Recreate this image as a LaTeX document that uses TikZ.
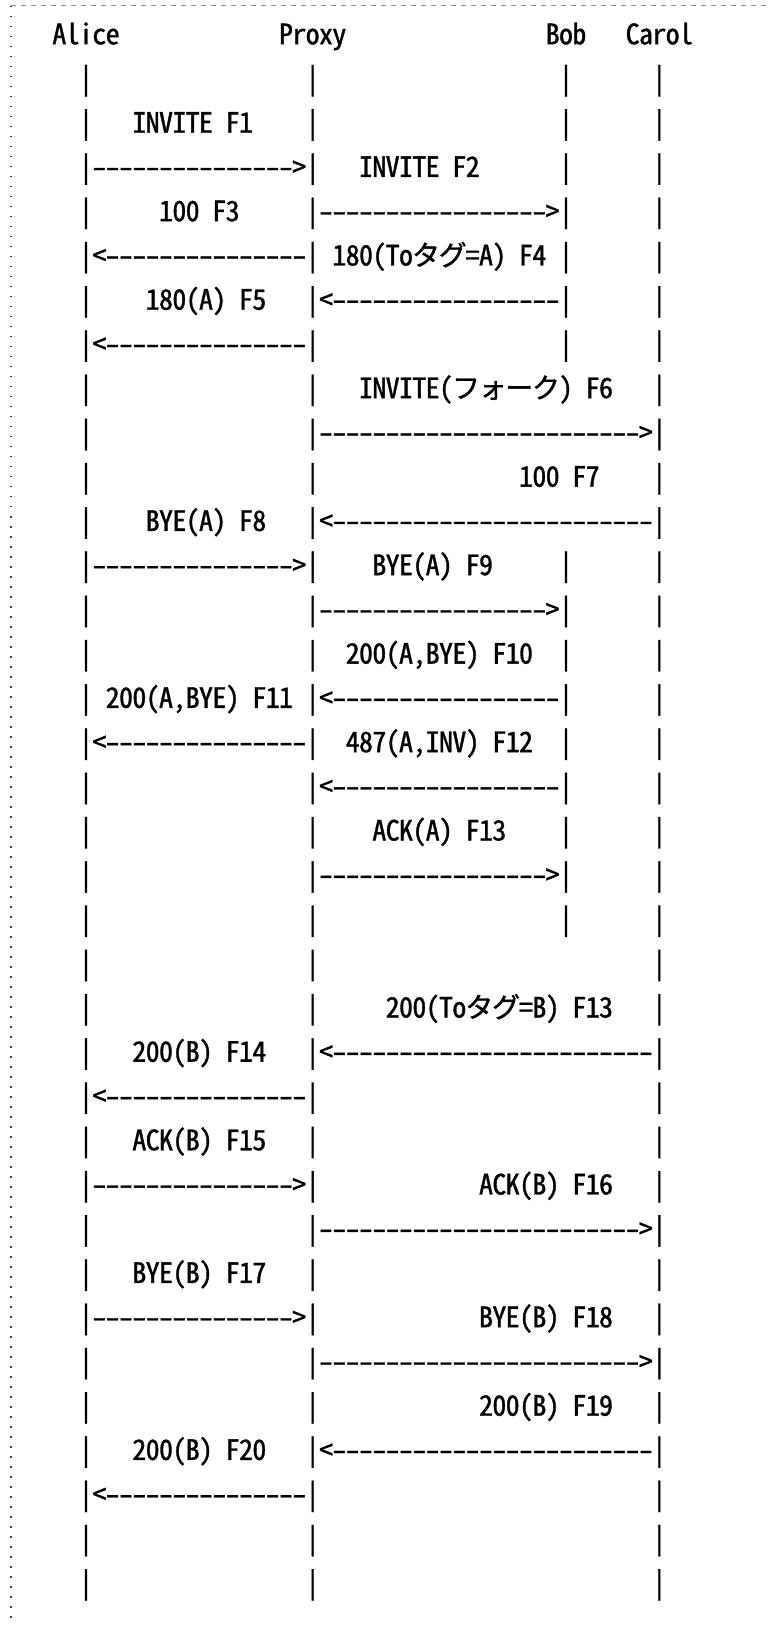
\documentclass[tikz,border=0pt]{standalone}
\usepackage{fontspec}
\usepackage{graphicx}
\newfontfamily\asciifont{Noto Sans CJK JP}[RawFeature=+hwid, FakeBold=1.2]
\newlength\cellw
\setlength\cellw{6.6667pt}
\ExplSyntaxOn
% 1文字ずつ等幅のマスに置く(全角は2マス)
\NewDocumentCommand \cells { m }
  {
    \exp_args:Ne \str_map_inline:nn {#1}
      {
        \int_compare:nNnTF { `##1 } > { 255 }
          { \hbox_to_wd:nn { 2\cellw } { \hss ##1 \hss } }
          {
            \str_if_eq:nnTF {##1} {-}
              { \hbox_to_wd:nn { \cellw } { \hss \scalebox{1.3}[1]{-} \hss } }
              { \hbox_to_wd:nn { \cellw } { \hss ##1 \hss } }
          }
      }
  }
% 矢印 (両端の縦線を含む)
\cs_new:Npn \arrowR #1 { | \prg_replicate:nn {#1} {-} > | }
\cs_new:Npn \arrowL #1 { | < \prg_replicate:nn {#1} {-} | }
\ExplSyntaxOff

\begin{document}
\begin{tikzpicture}[x=6.6667pt, y=-22.12pt,
    ascii/.style={anchor=base west, inner sep=0pt, outer sep=0pt,
      font=\asciifont\fontsize{14pt}{16pt}\selectfont},
    frametop/.style={black!45, line width=0.5pt, dash pattern=on 2.5pt off 2.5pt},
    frameleft/.style={black!75, line width=0.75pt, dash pattern=on 0.75pt off 4.25pt}]
  % 枠
  \useasboundingbox (0pt,0pt) rectangle (384.5pt,-812.5pt);
  \draw[frametop] (5.5pt,-3pt) -- (384.5pt,-3pt);
  \draw[frameleft] (5.5pt,-3pt) -- (5.5pt,-812.5pt);

  \begin{scope}[xshift=13pt]
    % 見出し
    \node[ascii] (alice) at (2,1) {\cells{Alice}};
    \node[ascii] (proxy) at (19,1) {\cells{Proxy}};
    \node[ascii] (bob) at (39,1) {\cells{Bob}};
    \node[ascii] (carol) at (45,1) {\cells{Carol}};

    % ライフライン (矢印のない行)
    \foreach \r in {2,3,5,7,9,10,11,12,14,15,16,18,19,20,21,22,23,24,26,28,29,31,32,33,35,36}
      \node[ascii] (a\r) at (4,\r) {\cells{|}};
    \foreach \r in {2,3,9,11,15,19,21,22,23,26,29,32,35,36}
      \node[ascii] (p\r) at (21,\r) {\cells{|}};
    \foreach \r in {2,3,4,6,8,13,15,17,19,21}
      \node[ascii] (b\r) at (40,\r) {\cells{|}};
    \foreach \r in {2,...,9,11,13,14,...,23,25,26,27,29,30,32,34,35,36}
      \node[ascii] (c\r) at (47,\r) {\cells{|}};

    % 矢印
    \foreach \r in {4,13,27,30} \node[ascii] (apR\r) at (4,\r) {\cells{\arrowR{15}}};
    \foreach \r in {6,8,17,25,34} \node[ascii] (apL\r) at (4,\r) {\cells{\arrowL{15}}};
    \foreach \r in {5,14,20} \node[ascii] (pbR\r) at (21,\r) {\cells{\arrowR{17}}};
    \foreach \r in {7,16,18} \node[ascii] (pbL\r) at (21,\r) {\cells{\arrowL{17}}};
    \foreach \r in {10,28,31} \node[ascii] (pcR\r) at (21,\r) {\cells{\arrowR{24}}};
    \foreach \r in {12,24,33} \node[ascii] (pcL\r) at (21,\r) {\cells{\arrowL{24}}};

    % メッセージ名
    \node[ascii] (F1) at (8,3) {\cells{INVITE F1}};
    \node[ascii] (F2) at (25,4) {\cells{INVITE F2}};
    \node[ascii] (F3) at (10,5) {\cells{100 F3}};
    \node[ascii] (F4) at (23,6) {\cells{180(Toタグ=A) F4}};
    \node[ascii] (F5) at (9,7) {\cells{180(A) F5}};
    \node[ascii] (F6) at (25,9) {\cells{INVITE(フォーク) F6}};
    \node[ascii] (F7) at (37,11) {\cells{100 F7}};
    \node[ascii] (F8) at (9,12) {\cells{BYE(A) F8}};
    \node[ascii] (F9) at (26,13) {\cells{BYE(A) F9}};
    \node[ascii] (F10) at (24,15) {\cells{200(A,BYE) F10}};
    \node[ascii] (F11) at (6,16) {\cells{200(A,BYE) F11}};
    \node[ascii] (F12) at (24,17) {\cells{487(A,INV) F12}};
    \node[ascii] (F13) at (26,19) {\cells{ACK(A) F13}};
    \node[ascii] (F13b) at (27,23) {\cells{200(Toタグ=B) F13}};
    \node[ascii] (F14) at (8,24) {\cells{200(B) F14}};
    \node[ascii] (F15) at (8,26) {\cells{ACK(B) F15}};
    \node[ascii] (F16) at (34,27) {\cells{ACK(B) F16}};
    \node[ascii] (F17) at (8,29) {\cells{BYE(B) F17}};
    \node[ascii] (F18) at (34,30) {\cells{BYE(B) F18}};
    \node[ascii] (F19) at (34,32) {\cells{200(B) F19}};
    \node[ascii] (F20) at (8,33) {\cells{200(B) F20}};
  \end{scope}
\end{tikzpicture}
\end{document}
